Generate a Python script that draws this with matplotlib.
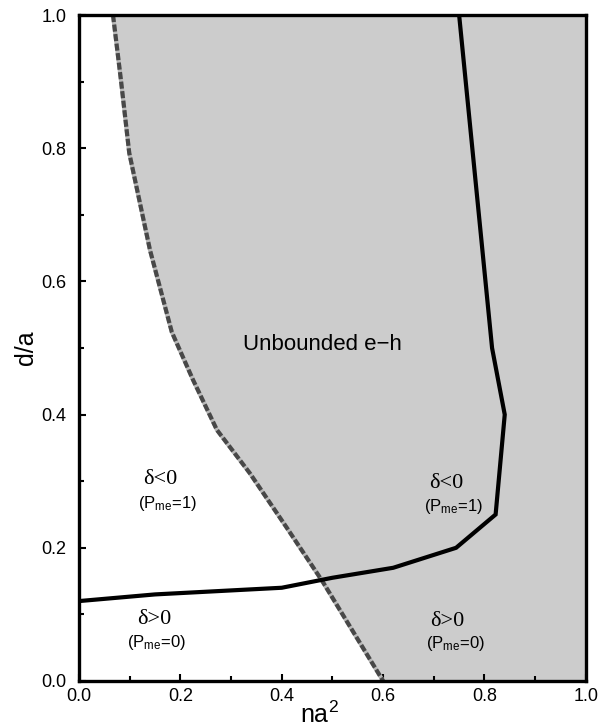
import matplotlib
matplotlib.use("Agg")
import matplotlib.pyplot as plt
from matplotlib.ticker import MultipleLocator

# boundary of the unbounded e-h region (dashed)
bound_x = [0.067, 0.083, 0.099, 0.140, 0.183, 0.225, 0.272, 0.337, 0.410, 0.48, 0.60]
bound_y = [1.00, 0.90, 0.793, 0.647, 0.524, 0.452, 0.377, 0.312, 0.230, 0.15, 0.00]

# delta = 0 line (solid)
delta_x = [0.00, 0.15, 0.40, 0.50, 0.62, 0.744, 0.822, 0.84, 0.815, 0.75]
delta_y = [0.12, 0.13, 0.14, 0.155, 0.17, 0.20, 0.25, 0.40, 0.50, 1.00]

ticks = [0.0, 0.2, 0.4, 0.6, 0.8, 1.0]
tick_labels = ["0.0", "0.2", "0.4", "0.6", "0.8", "1.0"]

# region labels: (sign x, sign y, P x, P y, sign text, P value)
regions = [
    (0.160, 0.302, 0.175, 0.266, "δ<0", "1"),
    (0.148, 0.092, 0.152, 0.058, "δ>0", "0"),
    (0.724, 0.296, 0.739, 0.262, "δ<0", "1"),
    (0.727, 0.090, 0.742, 0.056, "δ>0", "0"),
]

plt.rcParams["font.family"] = ["Liberation Sans", "DejaVu Sans"]
plt.rcParams["mathtext.fontset"] = "custom"
plt.rcParams["mathtext.rm"] = "Liberation Sans"
plt.rcParams["mathtext.it"] = "Liberation Sans"

fig = plt.figure(figsize=(5.99, 7.27), dpi=100, facecolor="white")
ax = fig.add_axes([0.132, 0.0633, 0.846, 0.916])

ax.fill_betweenx(bound_y, bound_x, 1.0, color="#cccccc", lw=0, zorder=1)

ax.plot(bound_x, bound_y, color="#b8b8b8", lw=3.0, zorder=2)
ax.plot(bound_x, bound_y, color="#484848", lw=3.0, dashes=(1.7, 0.6), zorder=3)

ax.plot(delta_x, delta_y, color="black", lw=3, solid_joinstyle="miter", zorder=4)

ax.text(0.48, 0.505, "Unbounded e\u2212h", fontsize=16, ha="center", va="center")

for sx, sy, px, py, s, p in regions:
    ax.text(sx, sy, s, fontsize=16, family="Liberation Serif", ha="center", va="center")
    ax.text(px, py, "(P$_{\\mathrm{me}}$=" + p + ")", fontsize=12, ha="center", va="center")

ax.set_xlim(0, 1)
ax.set_ylim(0, 1)
ax.set_xticks(ticks)
ax.set_xticklabels(tick_labels)
ax.set_yticks(ticks)
ax.set_yticklabels(tick_labels)
ax.xaxis.set_minor_locator(MultipleLocator(0.1))
ax.yaxis.set_minor_locator(MultipleLocator(0.1))
ax.tick_params(which="major", direction="in", length=5, width=1.5, labelsize=13, pad=5)
ax.tick_params(axis="y", which="major", pad=9)
ax.tick_params(which="minor", direction="in", length=3.5, width=1.5)
for s in ax.spines.values():
    s.set_linewidth(2.4)
    s.set_zorder(6)

ax.text(0.475, -0.063, "na$^{2}$", transform=ax.transAxes, fontsize=18,
        ha="center", va="baseline")
ax.text(-0.105, 0.50, "d/a", transform=ax.transAxes, fontsize=18,
        rotation=90, ha="center", va="center")

fig.savefig("out.png", dpi=100, facecolor="white")
